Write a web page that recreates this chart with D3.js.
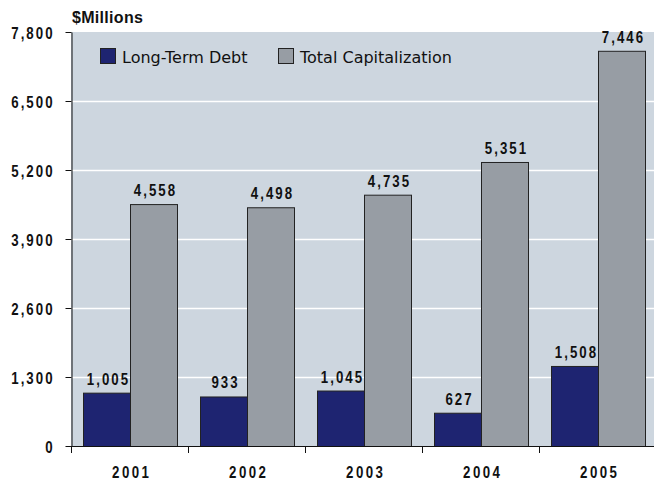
<!DOCTYPE html>
<html>
<head>
<meta charset="utf-8">
<script src="https://cdn.jsdelivr.net/npm/d3@7"></script>
<style>
  html, body { margin: 0; padding: 0; background: #fff; }
  svg { display: block; }
  .num { font-family: "Liberation Sans", Arial, sans-serif; font-weight: bold; font-size: 17px; fill: #111; }
  .leg { font-family: "DejaVu Sans", sans-serif; font-size: 16px; fill: #111; }
</style>
</head>
<body>
<script>
// Data
const years = ["2001", "2002", "2003", "2004", "2005"];
const longTermDebt = [1005, 933, 1045, 627, 1508];
const totalCapitalization = [4558, 4498, 4735, 5351, 7446];
const seriesNames = ["Long-Term Debt", "Total Capitalization"];
const yTicks = [0, 1300, 2600, 3900, 5200, 6500, 7800];

const colors = ["#1e2471", "#979da4"];

const W = 654, H = 481;
const m = { top: 32, left: 71, bottom: 35 };
const plotRight = 656;

// condensed numeric lettering: horizontally squeezed bold with tracking
const SX = 0.78, TRACK = 2.6;
function condensed(sel, x, y, anchor, track) {
  const tr = track == null ? TRACK : track;
  const shift = anchor === "middle" ? tr / 2 : anchor === "end" ? tr : 0;
  sel.attr("class", "num")
    .attr("text-anchor", anchor)
    .attr("letter-spacing", tr)
    .attr("transform", (d, i) => `translate(${x(d, i)},${y(d, i)}) scale(${SX},1)`)
    .attr("x", shift);
  return sel;
}

const svg = d3.select("body").append("svg").attr("width", W).attr("height", H);

const x = d3.scaleBand().domain(years).range([m.left, plotRight]);
const y = d3.scaleLinear().domain([0, 7800]).range([H - m.bottom, m.top]);
const xs = d3.scaleBand().domain(seriesNames).range([12, 106]);

// plot background
svg.append("rect")
  .attr("x", m.left).attr("y", y(7800))
  .attr("width", W - m.left).attr("height", y(0) - y(7800))
  .attr("fill", "#cdd6df");

// gridlines
svg.append("g").selectAll("line").data(yTicks.filter(d => d > 0 && d < 7800)).join("line")
  .attr("x1", m.left).attr("x2", W)
  .attr("y1", d => Math.round(y(d)) + 0.5).attr("y2", d => Math.round(y(d)) + 0.5)
  .attr("stroke", "#fff").attr("stroke-width", 1.5);

// bars with value labels
const series = [longTermDebt, totalCapitalization];
series.forEach((vals, si) => {
  const g = svg.append("g");
  const bx = i => x(years[i]) + xs(seriesNames[si]);
  g.selectAll("rect").data(vals).join("rect")
    .attr("x", (d, i) => bx(i) + 0.5)
    .attr("y", d => y(d) + 0.5)
    .attr("width", xs.bandwidth())
    .attr("height", d => y(0) - y(d))
    .attr("fill", colors[si])
    .attr("stroke", "#222").attr("stroke-width", 1);
  condensed(g.selectAll("text").data(vals).join("text"),
      (d, i) => bx(i) + xs.bandwidth() / 2 + 1, d => y(d) - 8, "middle")
    .text(d => d3.format(",")(d));
});

// y axis
const yAxis = svg.append("g")
  .attr("transform", `translate(${m.left + 0.5},0)`)
  .call(d3.axisLeft(y).tickValues(yTicks).tickFormat(d3.format(",")).tickSize(6).tickSizeOuter(0));
yAxis.select(".domain").attr("stroke", "#111");
yAxis.selectAll(".tick line").attr("stroke", "#111");
condensed(yAxis.selectAll(".tick text"), () => -19, () => 6, "end")
  .attr("dy", null).attr("fill", "#111");

// x axis line and tick marks at category edges
const x0 = y(0);
svg.append("line").attr("x1", m.left).attr("x2", W)
  .attr("y1", x0 + 0.5).attr("y2", x0 + 0.5).attr("stroke", "#111");
svg.append("g").selectAll("line").data(years).join("line")
  .attr("x1", d => x(d) + 0.5).attr("x2", d => x(d) + 0.5)
  .attr("y1", x0).attr("y2", x0 + 7)
  .attr("stroke", "#111");
condensed(svg.append("g").selectAll("text").data(years).join("text"),
    d => x(d) + x.bandwidth() / 2 + 1, () => 478, "middle", 3.2)
  .text(d => d);

// axis title
svg.append("text")
  .attr("x", 72).attr("y", 23)
  .style("font-family", "'Liberation Sans', Arial, sans-serif")
  .style("font-weight", "bold").style("font-size", "16px")
  .attr("letter-spacing", 0.3)
  .attr("fill", "#111")
  .text("$Millions");

// legend
const legX = [100, 278];
seriesNames.forEach((name, i) => {
  svg.append("rect").attr("x", legX[i] + 0.5).attr("y", 48.5)
    .attr("width", 15).attr("height", 15)
    .attr("fill", colors[i]).attr("stroke", "#222");
  svg.append("text").attr("class", "leg")
    .attr("x", legX[i] + 22).attr("y", 63)
    .text(name);
});
</script>
</body>
</html>
